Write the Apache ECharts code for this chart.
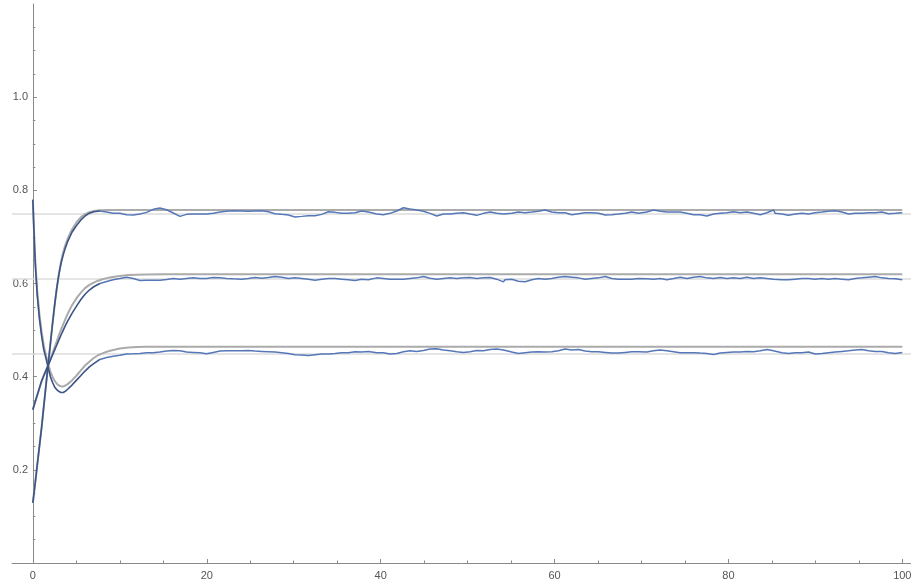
<!DOCTYPE html>
<html>
<head>
<meta charset="utf-8">
<script src="https://cdn.jsdelivr.net/npm/echarts@6/dist/echarts.min.js"></script>
<style>html,body{margin:0;padding:0;background:#fff;}#c{width:911px;height:582px;}</style>
</head>
<body>
<div id="c"></div>
<script>
// ---- data ----
const xMajor = [0, 20, 40, 60, 80, 100];
const xMinor = [5, 10, 15, 25, 30, 35, 45, 50, 55, 65, 70, 75, 85, 90, 95];
const yMajor = [0.2, 0.4, 0.6, 0.8, 1.0];
const eqLevels = [0.752, 0.610, 0.4535];

const tEarly = [0,0.1,0.2,0.3,0.5,0.75,1,1.25,1.5,1.75,2,2.25,2.5,2.75,3,3.25,3.5,3.75,4,4.5,5,5.5,6,6.5,7];
const topEarly = [0.129,0.145,0.161,0.177,0.21,0.25,0.29,0.335,0.38,0.425,0.468,0.512,0.553,0.59,0.62,0.644,0.662,0.677,0.69,0.71,0.724,0.736,0.745,0.751,0.754];
const midEarly = [0.329,0.336,0.342,0.348,0.36,0.375,0.39,0.402,0.413,0.424,0.435,0.446,0.457,0.468,0.479,0.49,0.5,0.51,0.519,0.536,0.551,0.565,0.577,0.586,0.593];
const botEarly = [0.78,0.725,0.675,0.635,0.575,0.525,0.488,0.458,0.44,0.42,0.401,0.388,0.378,0.372,0.368,0.366,0.366,0.369,0.373,0.382,0.392,0.402,0.412,0.421,0.428];

const tNoise = [
 7.71,8.48,9.24,10.01,10.78,11.55,12.31,13.08,13.85,14.61,15.38,16.15,16.92,17.68,18.45,19.22,19.98,20.75,21.52,22.28,23.05,
 23.25,24.02,24.78,25.55,26.32,27.09,27.85,28.62,29.39,30.15,30.92,31.69,32.46,33.22,33.99,34.76,35.52,36.29,37.06,37.82,38.59,
 38.78,39.55,40.31,41.08,41.85,42.62,43.38,44.15,44.92,45.68,46.45,47.22,47.99,48.75,49.52,50.29,51.05,51.82,52.59,53.35,54.12,
 54.31,55.08,55.84,56.61,57.38,58.15,58.91,59.68,60.45,61.21,61.98,62.75,63.52,64.28,65.05,65.82,66.58,67.35,68.12,68.88,69.65,
 69.85,70.62,71.38,72.15,72.92,73.69,74.45,75.22,75.99,76.75,77.52,78.29,79.06,79.82,80.59,81.36,82.12,82.89,83.66,84.42,85.19,
 85.38,86.15,86.91,87.68,88.45,89.22,89.98,90.75,91.52,92.28,93.05,93.82,94.59,95.35,96.12,96.89,97.65,98.42,99.19,100
];
const topNoise = [
 0.7556,0.7534,0.7506,0.7506,0.7477,0.747,0.7491,0.7527,0.7592,0.762,0.7584,0.7513,0.7441,0.7484,0.7491,0.7491,0.7491,0.7506,0.7534,0.7549,0.7563,
 0.7556,0.7556,0.7549,0.7556,0.7563,0.7541,0.7499,0.7484,0.747,0.7427,0.7441,0.7456,0.7456,0.7484,0.7541,0.7527,0.7506,0.7506,0.752,0.7556,0.7534,
 0.7506,0.7491,0.7477,0.7506,0.7556,0.7627,0.7599,0.7577,0.7549,0.7506,0.7449,0.7491,0.7491,0.7506,0.752,0.7491,0.7463,0.7506,0.7534,0.7506,0.7491,
 0.7506,0.7506,0.7534,0.752,0.7534,0.7549,0.7577,0.7534,0.752,0.752,0.7477,0.7499,0.752,0.752,0.7506,0.747,0.7477,0.7491,0.7506,0.7534,0.7506,
 0.752,0.7534,0.7577,0.7549,0.7534,0.7534,0.7534,0.7506,0.7477,0.7477,0.7449,0.7491,0.7506,0.752,0.7541,0.752,0.7534,0.7506,0.7477,0.752,0.7577,
 0.7506,0.7491,0.7463,0.7491,0.7506,0.7491,0.752,0.7534,0.7549,0.7563,0.7534,0.7491,0.7506,0.7506,0.752,0.752,0.7534,0.7499,0.7506,0.752
];
const midNoise = [
 0.600,0.6043,0.6079,0.6107,0.6136,0.6107,0.6064,0.6071,0.6071,0.6071,0.6086,0.6107,0.6093,0.6107,0.6121,0.6107,0.6107,0.6129,0.6121,0.6107,0.610,
 0.610,0.6093,0.6107,0.6129,0.6114,0.6129,0.615,0.6136,0.6107,0.6121,0.6107,0.6093,0.6071,0.6093,0.6107,0.6107,0.6093,0.6079,0.6064,0.6093,0.6079,
 0.6107,0.6121,0.6107,0.6093,0.6093,0.6093,0.6107,0.6121,0.615,0.6114,0.6093,0.6107,0.6121,0.6107,0.6121,0.6129,0.6107,0.6121,0.6129,0.6093,0.6036,
 0.6079,0.6093,0.605,0.6036,0.6079,0.6107,0.6093,0.6107,0.6136,0.615,0.6136,0.6121,0.6093,0.6107,0.6121,0.615,0.6107,0.6093,0.6093,0.6093,0.6107,
 0.610,0.610,0.6093,0.6107,0.6079,0.6107,0.6136,0.6107,0.6136,0.615,0.6121,0.6107,0.6129,0.6107,0.6121,0.6107,0.6136,0.6107,0.6121,0.6107,0.6093,
 0.6093,0.6079,0.6079,0.6093,0.6107,0.6107,0.6093,0.6107,0.6093,0.6107,0.6093,0.6079,0.6107,0.6121,0.6136,0.615,0.6121,0.6107,0.610,0.6079
];
const botNoise = [
 0.437,0.441,0.444,0.446,0.4485,0.4492,0.4499,0.4514,0.4514,0.4528,0.4549,0.4564,0.4556,0.4528,0.4521,0.4514,0.4492,0.4521,0.4549,0.4556,0.4556,
 0.4535,0.4556,0.4564,0.4549,0.4542,0.4535,0.4528,0.4514,0.4499,0.4471,0.4464,0.4456,0.4471,0.4485,0.4485,0.4499,0.4514,0.4514,0.4535,0.4528,0.4542,
 0.4521,0.4514,0.4514,0.4485,0.4499,0.4535,0.4556,0.4542,0.4564,0.4592,0.4599,0.4571,0.4556,0.4535,0.4521,0.4535,0.4564,0.4556,0.4585,0.4592,0.4571,
 0.4535,0.4528,0.4499,0.4514,0.4528,0.4535,0.4528,0.4535,0.4556,0.4592,0.4571,0.4585,0.4549,0.4535,0.4535,0.4521,0.4506,0.4506,0.4521,0.4535,0.4535,
 0.4499,0.4528,0.4556,0.4571,0.4556,0.4535,0.4514,0.4514,0.4514,0.4506,0.4499,0.4478,0.4506,0.4521,0.4528,0.4528,0.4542,0.4535,0.4556,0.4585,0.4556,
 0.4535,0.4514,0.4499,0.4514,0.4514,0.4528,0.4485,0.4499,0.4514,0.4528,0.4542,0.4556,0.4571,0.4585,0.4556,0.4542,0.4542,0.4514,0.4499,0.4521
];

const tGray = [0,0.1,0.2,0.3,0.5,0.75,1,1.25,1.5,1.75,2,2.25,2.5,2.75,3,3.25,3.5,3.75,4,4.5,5,5.5,6,6.5,7,7.5,8,8.5,9,10,11,12,13,15,20,100];
const grayTop = [0.129,0.145,0.161,0.177,0.21,0.25,0.29,0.335,0.38,0.425,0.468,0.512,0.553,0.59,0.622,0.648,0.668,0.683,0.696,0.716,0.731,0.742,0.749,0.753,0.7555,0.757,0.7575,0.7578,0.758,0.758,0.758,0.758,0.758,0.758,0.758,0.758];
const grayMid = [0.329,0.336,0.342,0.348,0.36,0.375,0.39,0.402,0.413,0.424,0.437,0.45,0.463,0.476,0.489,0.501,0.513,0.524,0.535,0.553,0.568,0.58,0.59,0.597,0.602,0.606,0.609,0.6115,0.6135,0.6163,0.618,0.619,0.6195,0.62,0.62,0.62];
const grayBot = [0.78,0.728,0.68,0.642,0.585,0.535,0.497,0.468,0.446,0.428,0.412,0.4,0.391,0.385,0.381,0.379,0.379,0.381,0.384,0.392,0.402,0.413,0.424,0.432,0.44,0.446,0.45,0.4535,0.456,0.4603,0.4625,0.4635,0.464,0.4642,0.4642,0.4642];

// ---- build ----
function zip(xs, ys) { return xs.map((x, i) => [x, ys[i]]); }

const AX = '#8a8a8a';
const DARK = '#3b5386';
const LIGHT = '#5577b8';
const LBL = { color: '#555', fontSize: 11, fontFamily: 'Liberation Sans, Arial, sans-serif' };

function line(d, color, width, z) {
  return { type: 'line', data: d, showSymbol: false, symbol: 'none', z: z,
    lineStyle: { color: color, width: width }, animation: false, silent: true };
}
// early (dark) part joined to the first noisy point, then the noisy (lighter) part
function blueSeries(early, noise) {
  const e = zip(tEarly, early).concat([[tNoise[0], noise[0]]]);
  return [line(e, DARK, 1.6, 4), line(zip(tNoise, noise), LIGHT, 1.5, 3)];
}

const option = {
  backgroundColor: '#fff',
  animation: false,
  grid: { left: 12, right: 0, top: 4, bottom: 19, containLabel: false, outerBoundsMode: 'none' },
  xAxis: [
    { type: 'value', min: -2.4, max: 101, position: 'bottom',
      axisLine: { onZero: true, lineStyle: { color: AX, width: 1 } },
      axisTick: { inside: true, length: 4, customValues: xMajor, lineStyle: { color: AX } },
      axisLabel: Object.assign({ customValues: xMajor, margin: 7 }, LBL),
      splitLine: { show: false } },
    { type: 'value', min: -2.4, max: 101, position: 'bottom',
      axisLine: { show: false },
      axisTick: { inside: true, length: 2.5, customValues: xMinor, lineStyle: { color: AX } },
      axisLabel: { show: false },
      splitLine: { show: false } }
  ],
  yAxis: {
    type: 'value', min: 0, max: 1.2, interval: 0.2,
    axisLine: { show: true, onZero: true, lineStyle: { color: AX, width: 1 } },
    axisTick: { show: true, inside: true, length: 4, customValues: yMajor, lineStyle: { color: AX } },
    minorTick: { show: true, splitNumber: 4, length: 2.5, lineStyle: { color: AX } },
    axisLabel: Object.assign({ customValues: yMajor, margin: -16, formatter: v => v.toFixed(1) }, LBL),
    splitLine: { show: false }, minorSplitLine: { show: false }
  },
  series: [
    { type: 'line', data: [], z: 1, silent: true,
      markLine: { silent: true, z: 1, symbol: ['none', 'none'], label: { show: false }, animation: false,
        lineStyle: { color: '#dcdcdc', width: 1.6, type: 'solid' },
        data: eqLevels.map(v => ({ yAxis: v })) } },
    line(zip(tGray, grayTop), '#ababab', 2, 2),
    line(zip(tGray, grayMid), '#ababab', 2, 2),
    line(zip(tGray, grayBot), '#ababab', 2, 2)
  ].concat(blueSeries(topEarly, topNoise), blueSeries(midEarly, midNoise), blueSeries(botEarly, botNoise))
};

const chart = echarts.init(document.getElementById('c'), null, { renderer: 'canvas' });
chart.setOption(option);
</script>
</body>
</html>
